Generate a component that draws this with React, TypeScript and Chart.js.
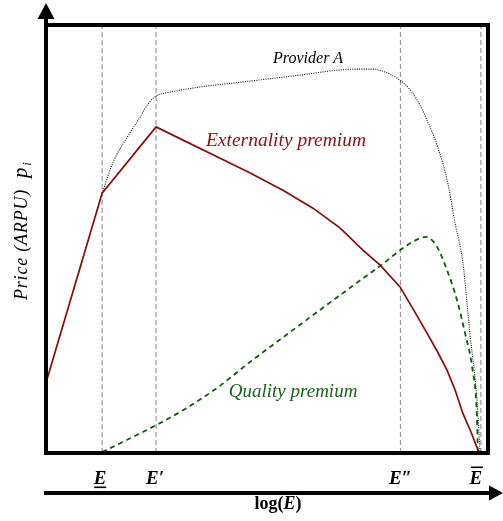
import React, { useEffect, useRef } from 'react';
import { Chart, registerables } from 'chart.js';

Chart.register(...registerables);

// Markers on the log(E) axis
const markerX = [12.7, 24.9, 80.2, 98.4];
const markerLabels = ['E', 'E′', 'E″', 'E'];

// Series names
const providerName = 'Provider A';
const externalityName = 'Externality premium';
const qualityName = 'Quality premium';

// Provider A (dotted)
const providerX = [12.7, 15.2, 19.0, 21.3, 22.9, 24.9, 28.1, 34.8, 46.2, 57.5, 66.5, 71.0, 73.8, 76.7, 80.1, 82.8, 84.6, 86.4, 88.7, 91.0, 92.5, 94.3, 95.9, 97.5, 98.2];
const providerY = [60.7, 68.0, 74.8, 78.5, 81.3, 83.4, 84.3, 85.5, 86.9, 88.3, 89.5, 89.7, 89.7, 89.0, 87.1, 84.3, 81.3, 77.3, 71.3, 62.6, 53.9, 44.6, 28.0, 12.4, 0.2];

// Externality premium (solid red)
const externalityX = [0, 12.7, 24.9, 31.0, 38.7, 46.2, 53.6, 60.4, 66.5, 71.7, 75.6, 80.1, 83.3, 86.2, 88.6, 90.7, 92.6, 94.3, 96.2, 98.0];
const externalityY = [16.4, 60.7, 76.2, 73.1, 69.2, 65.4, 61.4, 57.2, 52.6, 47.4, 43.9, 38.8, 33.2, 28.0, 23.6, 19.4, 14.6, 9.3, 4.8, 0];

// Quality premium (dashed green)
const qualityX = [12.7, 24.9, 31.0, 38.7, 46.2, 53.6, 61.3, 68.8, 76.2, 82.4, 86.0, 88.5, 90.7, 93.0, 94.8, 96.4, 97.5, 97.7];
const qualityY = [0.2, 6.5, 10.0, 15.2, 21.3, 27.0, 32.9, 38.6, 44.2, 49.0, 50.5, 48.1, 42.8, 35.7, 28.0, 20.1, 8.4, 0.2];

const toPts = (xs: number[], ys: number[]) => xs.map((x, i) => ({ x, y: ys[i] }));

const SERIF = '"Liberation Serif", "DejaVu Serif", serif';

const decorPlugin = {
  id: 'decor',
  afterDatasetsDraw(chart: any) {
    const { ctx, chartArea, scales } = chart;
    const xs = scales.x;
    const ys = scales.y;
    ctx.save();

    // Frame
    ctx.strokeStyle = '#000';
    ctx.lineWidth = 4;
    ctx.strokeRect(chartArea.left, chartArea.top, chartArea.right - chartArea.left, chartArea.bottom - chartArea.top);

    // Y axis arrow
    ctx.beginPath();
    ctx.moveTo(chartArea.left, chartArea.top);
    ctx.lineTo(chartArea.left, 17);
    ctx.stroke();
    ctx.fillStyle = '#000';
    ctx.beginPath();
    ctx.moveTo(chartArea.left - 8.5, 19);
    ctx.lineTo(chartArea.left, 3);
    ctx.lineTo(chartArea.left + 8.5, 19);
    ctx.closePath();
    ctx.fill();

    // X axis arrow
    const ay = 493;
    ctx.beginPath();
    ctx.moveTo(chartArea.left - 2, ay);
    ctx.lineTo(492, ay);
    ctx.stroke();
    ctx.beginPath();
    ctx.moveTo(489, ay - 7.5);
    ctx.lineTo(503, ay);
    ctx.lineTo(489, ay + 7.5);
    ctx.closePath();
    ctx.fill();

    // Marker tick labels
    ctx.font = `bold italic 19px ${SERIF}`;
    ctx.textAlign = 'center';
    ctx.textBaseline = 'alphabetic';
    const offs = [-2, -1, 0, -5];
    markerX.forEach((m, i) => {
      const px = xs.getPixelForValue(m) + offs[i];
      ctx.fillText(markerLabels[i], px, 484);
      if (i === 0) {
        ctx.fillRect(px - 6, 486.5, 12, 1.6);
      }
      if (i === 3) {
        ctx.fillRect(px - 5, 466.5, 12, 1.6);
      }
    });

    // log(E)
    const parts = [
      { t: 'log(', f: `bold 18px ${SERIF}` },
      { t: 'E', f: `bold italic 18px ${SERIF}` },
      { t: ')', f: `bold 18px ${SERIF}` },
    ];
    let total = 0;
    parts.forEach((p) => { ctx.font = p.f; total += ctx.measureText(p.t).width; });
    let cx = 278 - total / 2;
    ctx.textAlign = 'left';
    parts.forEach((p) => { ctx.font = p.f; ctx.fillText(p.t, cx, 509); cx += ctx.measureText(p.t).width; });

    // Y label
    ctx.save();
    ctx.translate(27, 300);
    ctx.rotate(-Math.PI / 2);
    ctx.font = `italic 18px ${SERIF}`;
    (ctx as any).letterSpacing = '0.8px';
    ctx.textAlign = 'left';
    ctx.fillText('Price (ARPU)', 0, 0);
    let w = ctx.measureText('Price (ARPU)').width + 11;
    ctx.font = `italic 21px ${SERIF}`;
    ctx.fillText('p', w, 0);
    w += ctx.measureText('p').width + 1;
    ctx.font = `italic 13px ${SERIF}`;
    ctx.fillText('i', w, 4);
    (ctx as any).letterSpacing = '0px';
    ctx.restore();

    // Series annotations
    ctx.textAlign = 'center';
    ctx.textBaseline = 'middle';
    ctx.font = `italic 16px ${SERIF}`;
    ctx.fillStyle = '#000';
    ctx.fillText(providerName, xs.getPixelForValue(59.3), ys.getPixelForValue(92.1));
    ctx.font = `italic 19.5px ${SERIF}`;
    ctx.fillStyle = '#8b1010';
    ctx.fillText(externalityName, xs.getPixelForValue(54.3), ys.getPixelForValue(72.9));
    ctx.font = `italic 19px ${SERIF}`;
    ctx.fillStyle = '#166616';
    ctx.fillText(qualityName, xs.getPixelForValue(55.9), ys.getPixelForValue(14.3));

    ctx.restore();
  },
};

export default function App() {
  const ref = useRef<HTMLCanvasElement | null>(null);
  useEffect(() => {
    if (!ref.current) return;
    const verticals = markerX.map((m) => ({
      label: 'marker',
      data: [{ x: m, y: 0 }, { x: m, y: 100 }],
      borderColor: '#9a9a9a',
      borderWidth: 1.2,
      borderDash: [5, 3],
      pointRadius: 0,
      tension: 0,
    }));
    const chart = new Chart(ref.current, {
      type: 'line',
      data: {
        datasets: [
          {
            label: externalityName,
            data: toPts(externalityX, externalityY),
            borderColor: '#8b0a0a',
            borderWidth: 1.7,
            pointRadius: 0,
            tension: 0,
          },
          {
            label: qualityName,
            data: toPts(qualityX, qualityY),
            borderColor: '#0b5e0b',
            borderWidth: 1.8,
            borderDash: [5, 4],
            pointRadius: 0,
            cubicInterpolationMode: 'monotone',
          },
          {
            label: providerName,
            data: toPts(providerX, providerY),
            borderColor: '#111',
            borderWidth: 1.1,
            borderDash: [1, 1.3],
            pointRadius: 0,
            cubicInterpolationMode: 'monotone',
          },
          ...verticals,
        ] as any,
      },
      options: {
        animation: false,
        responsive: false,
        layout: { padding: { left: 46, top: 25, right: 15, bottom: 68 } },
        plugins: { legend: { display: false }, tooltip: { enabled: false } },
        scales: {
          x: { type: 'linear', min: 0, max: 100, display: false },
          y: { type: 'linear', min: 0, max: 100, display: false },
        },
        elements: { line: { fill: false } },
      } as any,
      plugins: [decorPlugin],
    });
    return () => chart.destroy();
  }, []);
  return (
    <canvas
      ref={ref}
      width={503}
      height={521}
      style={{ position: 'absolute', left: 0, top: 0, width: 503, height: 521 }}
    />
  );
}
